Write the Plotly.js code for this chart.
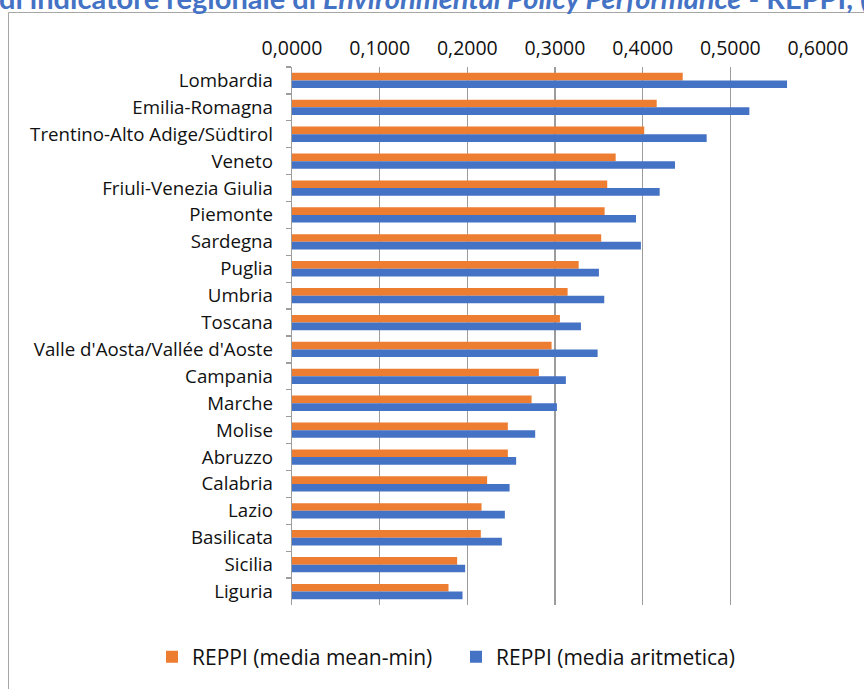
<!DOCTYPE html>
<html>
<head>
<meta charset="utf-8">
<script src="https://cdn.plot.ly/plotly-3.0.1.min.js"></script>
<style>html,body{margin:0;padding:0;background:#fff;} #chart{width:864px;height:689px;}</style>
</head>
<body>
<div id="chart"></div>
<script>
const regions = ["Lombardia","Emilia-Romagna","Trentino-Alto Adige/Südtirol","Veneto","Friuli-Venezia Giulia","Piemonte","Sardegna","Puglia","Umbria","Toscana","Valle d'Aosta/Vallée d'Aoste","Campania","Marche","Molise","Abruzzo","Calabria","Lazio","Basilicata","Sicilia","Liguria"];
const meanMin = [0.4457,0.4160,0.4018,0.3692,0.3596,0.3566,0.3527,0.3270,0.3144,0.3056,0.2961,0.2816,0.2733,0.2462,0.2462,0.2226,0.2162,0.2154,0.1884,0.1785];
const aritmetica = [0.5647,0.5217,0.4730,0.4369,0.4194,0.3924,0.3980,0.3501,0.3562,0.3296,0.3486,0.3124,0.3022,0.2774,0.2557,0.2482,0.2428,0.2394,0.1975,0.1945];
const seriesNames = ["REPPI (media mean-min)","REPPI (media aritmetica)"];
const titleText = "di indicatore regionale di <i>Environmental Policy Performance</i> - REPPI, (";

const W = 864, H = 689, L = 292, R = 46, T = 67, B = 84;
const pw = W - L - R, ph = H - T - B;
const px = x => (x - L) / pw;
const py = y => (H - B - y) / ph;

const font = "'Open Sans', sans-serif";
const grid = "#9C9C9C";

const traces = [
  {type:"bar", orientation:"h", y:regions, x:meanMin, name:seriesNames[0], marker:{color:"#ED7D31"}, hoverinfo:"x+y"},
  {type:"bar", orientation:"h", y:regions, x:aritmetica, name:seriesNames[1], marker:{color:"#4472C4"}, hoverinfo:"x+y"}
];

const layout = {
  width: W, height: H,
  margin: {l:L, r:R, t:T, b:B, pad:0},
  paper_bgcolor: "#fff", plot_bgcolor: "#fff",
  separators: ",.",
  barmode: "group", bargap: 0.43, bargroupgap: 0,
  font: {family: font, size: 18, color: "#111"},
  showlegend: true,
  legend: {orientation:"h", x: px(152), xanchor:"left", y: py(657), yanchor:"middle",
           font:{family:font, size:21, color:"#111"}, traceorder:"normal", itemwidth:30, entrywidth:259},
  xaxis: {side:"top", range:[0,0.6], dtick:0.1, tick0:0, tickformat:".4f", showgrid:true, gridcolor:grid, gridwidth:1.3,
          zeroline:false, showline:false, ticks:"", ticklabelstandoff:7, tickfont:{family:font, size:19.5, color:"#111"}, fixedrange:true},
  xaxis2: {overlaying:"x", anchor:"y", side:"bottom", range:[0,0.6], dtick:0.1, tick0:0, showticklabels:false, showgrid:false,
           zeroline:false, showline:true, linecolor:grid, linewidth:1.3, ticks:"outside", ticklen:6, tickcolor:grid, tickwidth:1.3},
  yaxis: {autorange:"reversed", type:"category", showline:true, linecolor:grid, linewidth:1.3, ticks:"outside", tickson:"boundaries",
          ticklen:5, tickcolor:grid, tickwidth:1.3, showgrid:false, ticklabelstandoff:14, tickfont:{family:font, size:18.7, color:"#111"}},
  shapes: [
    {type:"rect", xref:"paper", yref:"paper", x0:px(8.5), x1:px(880), y0:py(700), y1:py(12.5), line:{color:"#A6A6A6", width:1}, fillcolor:"rgba(0,0,0,0)", layer:"below"}
  ],
  annotations: [
    {xref:"paper", yref:"paper", x:px(-3), y:py(17), xanchor:"left", yanchor:"bottom", showarrow:false, align:"left",
     text:"<b>" + titleText + "</b>", font:{family:"Lato, sans-serif", size:29, color:"#4472C4"}}
  ]
};

Plotly.newPlot("chart", traces, layout, {displayModeBar:false, staticPlot:true});
</script>
</body>
</html>
